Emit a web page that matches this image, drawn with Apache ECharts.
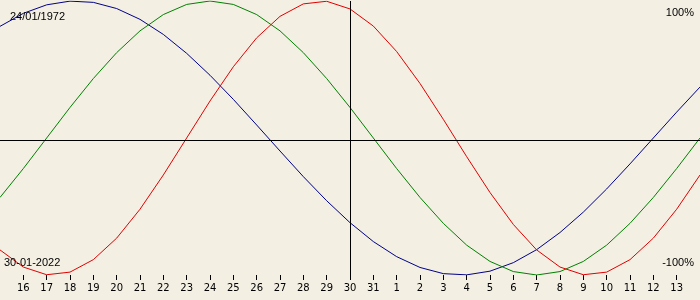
<!DOCTYPE html>
<html>
<head>
<meta charset="utf-8">
<script src="https://cdn.jsdelivr.net/npm/echarts@6/dist/echarts.min.js"></script>
<style>
html,body{margin:0;padding:0;background:#F3EFE3;}
#c{width:700px;height:300px;}
</style>
</head>
<body>
<div id="c"></div>
<script>
// Day offsets relative to 30-01-2022 (x = 0)
var dayOffsets = [-15,-14,-13,-12,-11,-10,-9,-8,-7,-6,-5,-4,-3,-2,-1,0,1,2,3,4,5,6,7,8,9,10,11,12,13,14,15];
// Tick labels (day of month) for offsets -14 .. 14
var tickLabels = ['16','17','18','19','20','21','22','23','24','25','26','27','28','29','30','31','1','2','3','4','5','6','7','8','9','10','11','12','13'];
// Physical (red), %
var physical = [-81.7,-94.2,-99.8,-97.9,-88.8,-73.1,-52.0,-27.0,0,27.0,52.0,73.1,88.8,97.9,99.8,94.2,81.7,63.1,39.8,13.6,-13.6,-39.8,-63.1,-81.7,-94.2,-99.8,-97.9,-88.8,-73.1,-52.0,-27.0];
// Emotional (green), %
var emotional = [-43.4,-22.3,0,22.3,43.4,62.3,78.2,90.1,97.5,100,97.5,90.1,78.2,62.3,43.4,22.3,0,-22.3,-43.4,-62.3,-78.2,-90.1,-97.5,-100,-97.5,-90.1,-78.2,-62.3,-43.4,-22.3,0];
// Intellectual (blue), %
var intellectual = [81.5,91.0,97.2,99.9,99.0,94.5,86.6,75.6,61.8,45.8,28.2,9.5,-9.5,-28.2,-45.8,-61.8,-75.6,-86.6,-94.5,-99.0,-99.9,-97.2,-91.0,-81.5,-69.0,-54.1,-37.2,-18.9,0,18.9,37.2];
var birthText = '24/01/1972';
var dateText = '30-01-2022';
var topText = '100%';
var bottomText = '-100%';

function pairs(arr){ return dayOffsets.map(function(d,i){ return [d, arr[i]]; }); }

var chart = echarts.init(document.getElementById('c'), null, {renderer:'canvas'});
var textStyleBase = {fontFamily:'Liberation Sans', fontSize:11, fill:'#000'};
chart.setOption({
  backgroundColor:'#F3EFE3',
  animation:false,
  grid:{left:0, right:0, top:1, bottom:25},
  xAxis:{
    type:'value', min:-15, max:15, interval:1,
    axisLine:{show:false, onZero:false},
    splitLine:{show:false},
    axisTick:{show:true, length:5, lineStyle:{color:'#000', width:1}},
    axisLabel:{
      show:true, margin:8, color:'#000', fontFamily:'DejaVu Sans', fontSize:10,
      showMinLabel:false, showMaxLabel:false,
      formatter:function(v){ var i = Math.round(v) + 14; return (i>=0 && i<tickLabels.length) ? tickLabels[i] : ''; }
    }
  },
  yAxis:{
    type:'value', min:-100, max:100,
    show:false
  },
  series:[
    {type:'line', data:pairs(intellectual), showSymbol:false, lineStyle:{color:'#000088', width:1}, itemStyle:{color:'#000088'}, z:3,
     markLine:{silent:true, symbol:['none','none'], label:{show:false}, lineStyle:{color:'#000', width:1, type:'solid'},
       data:[{xAxis:0},{yAxis:-1.5}]}},
    {type:'line', data:pairs(emotional), showSymbol:false, lineStyle:{color:'#008000', width:1}, itemStyle:{color:'#008000'}, z:3},
    {type:'line', data:pairs(physical), showSymbol:false, lineStyle:{color:'#E00000', width:1}, itemStyle:{color:'#E00000'}, z:3}
  ],
  graphic:[
    {type:'text', left:10, top:11, z:10, style:Object.assign({text:birthText}, textStyleBase)},
    {type:'text', right:6, top:7, z:10, style:Object.assign({text:topText}, textStyleBase)},
    {type:'text', left:4, top:257, z:10, style:Object.assign({text:dateText}, textStyleBase)},
    {type:'text', right:6, top:257, z:10, style:Object.assign({text:bottomText}, textStyleBase)}
  ]
});
</script>
</body>
</html>
